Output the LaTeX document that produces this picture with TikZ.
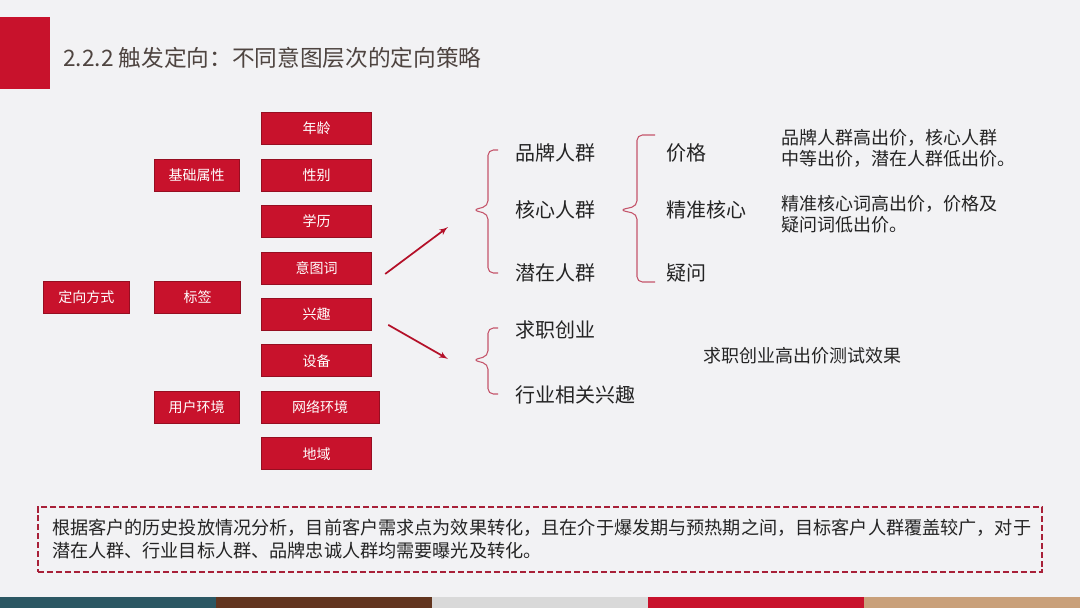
\documentclass[tikz,border=0pt]{standalone}
\usepackage{fontspec}
\setmainfont{Noto Sans CJK SC}
\usetikzlibrary{arrows, positioning, calc}
\usepackage{xcolor}
\definecolor{pptred}{RGB}{200, 18, 44}
\definecolor{slidebg}{RGB}{242, 242, 244}
\definecolor{titlebrown}{RGB}{78, 68, 64}
\definecolor{bracepink}{RGB}{196, 84, 106}
\definecolor{dashred}{RGB}{168, 32, 56}
\definecolor{textdark}{RGB}{36, 36, 36}
\definecolor{barteal}{RGB}{43, 87, 99}
\definecolor{barbrown}{RGB}{98, 53, 31}
\definecolor{bargray}{RGB}{217, 217, 217}
\definecolor{bartan}{RGB}{201, 160, 122}

\begin{document}
\begin{tikzpicture}[
    x=0.75pt, y=-0.75pt,
    tagbox/.style={
        rectangle,
        fill=pptred,
        draw=pptred!75!black,
        line width=0.6pt,
        text=white,
        inner sep=0pt,
        minimum width=83pt,
        minimum height=24pt,
        font=\fontsize{10.5}{12}\selectfont
    },
    midbox/.style={tagbox, minimum width=64pt},
    group/.style={
        text=textdark,
        anchor=west,
        inner sep=0pt,
        font=\fontsize{15}{18}\selectfont
    },
    note/.style={
        text=textdark,
        anchor=west,
        align=left,
        inner sep=0pt,
        font=\fontsize{13.5}{15.75}\selectfont
    },
    bracket/.style={draw=bracepink, line width=0.8pt, rounded corners=4pt},
    line/.style={draw=pptred!90!black, line width=1.3pt, -latex'},
    summarybox/.style={
        draw=dashred,
        dashed,
        dash pattern=on 4.5pt off 2.2pt,
        line width=1.3pt,
        text=textdark,
        align=left,
        text width=732pt,
        inner xsep=10.5pt,
        minimum height=48.75pt,
        font=\fontsize{13.6}{17.25}\selectfont
    }
]

    % Background and title
    \fill[slidebg] (0,0) rectangle (1080,608);
    \fill[pptred] (0,17) rectangle (50,89);
    \node[anchor=west, inner sep=0pt, text=titlebrown, font=\fontsize{17}{20}\selectfont] (title) at (63,58) {2.2.2 触发定向：不同意图层次的定向策略};

    % Tag column
    \node[tagbox] (age) at (316.5,128.5) {年龄};
    \node[tagbox, below=10.25pt of age] (gender) {性别};
    \node[tagbox, below=10.25pt of gender] (edu) {学历};
    \node[tagbox, below=10.25pt of edu] (intent) {意图词};
    \node[tagbox, below=10.25pt of intent] (interest) {兴趣};
    \node[tagbox, below=10.25pt of interest] (device) {设备};
    \node[tagbox, minimum width=88.5pt, below=10.25pt of device.south west, anchor=north west] (network) {网络环境};
    \node[tagbox, below=10.25pt of network.south west, anchor=north west] (region) {地域};

    % Category column
    \node[midbox, left=15.75pt of gender] (basic) {基础属性};
    \node[midbox] (label) at (197.5,297) {标签};
    \node[midbox, left=15.75pt of network] (env) {用户环境};
    \node[midbox, left=18.75pt of label] (method) {定向方式};

    % Strategy texts
    \node[group] (brand) at (515,153) {品牌人群};
    \node[group] (core) at (515,210) {核心人群};
    \node[group] (latent) at (515,273) {潜在人群};
    \node[group] (price) at (666,153) {价格};
    \node[group] (precise) at (666,210) {精准核心};
    \node[group] (question) at (666,273) {疑问};
    \node[group] (job) at (515,330) {求职创业};
    \node[group] (industry) at (515,395) {行业相关兴趣};

    \node[note] (note1) at (781,148.5) {品牌人群高出价，核心人群\\中等出价，潜在人群低出价。};
    \node[note] (note2) at (781,214.5) {精准核心词高出价，价格及\\疑问词低出价。};
    \node[note] (note3) at (703,356) {求职创业高出价测试效果};

    % Braces
    \draw[bracket] ($(brand.west)+(-17,-3)$) -- ++(-10,0) -- ($(core.west)+(-27,-4)$) -- ++(-15,4) -- ++(15,4) -- ($(latent.west)+(-27,0)$) -- ++(10,0);
    \draw[bracket] ($(price.west)+(-11,-18)$) -- ++(-18,0) -- ($(precise.west)+(-29,-4)$) -- ++(-17,4) -- ++(17,4) -- ($(question.west)+(-29,9)$) -- ++(18,0);
    \draw[bracket] ($(job.west)+(-17,-2)$) -- ++(-10,0) -- ($(job.west)+(-27,26)$) -- ++(-15,4) -- ++(15,4) -- ($(industry.west)+(-27,-1)$) -- ++(10,0);

    % Arrows
    \coordinate (uptip) at (448,227);
    \coordinate (downtip) at (448,359);
    \path[line] ($(intent.east)+(13,6)$) -- (uptip);
    \path[line] ($(interest.east)+(16,10.5)$) -- (downtip);

    % Summary
    \node[summarybox] (summary) at (540,539.5) {根据客户的历史投放情况分析，目前客户需求点为效果转化，且在介于爆发期与预热期之间，目标客户人群覆盖较广，对于\\潜在人群、行业目标人群、品牌忠诚人群均需要曝光及转化。};

    % Bottom bar
    \foreach \c [count=\i from 0] in {barteal, barbrown, bargray, pptred, bartan}
        \fill[\c] (\i*216,597) rectangle ++(216,11);

\end{tikzpicture}
\end{document}
